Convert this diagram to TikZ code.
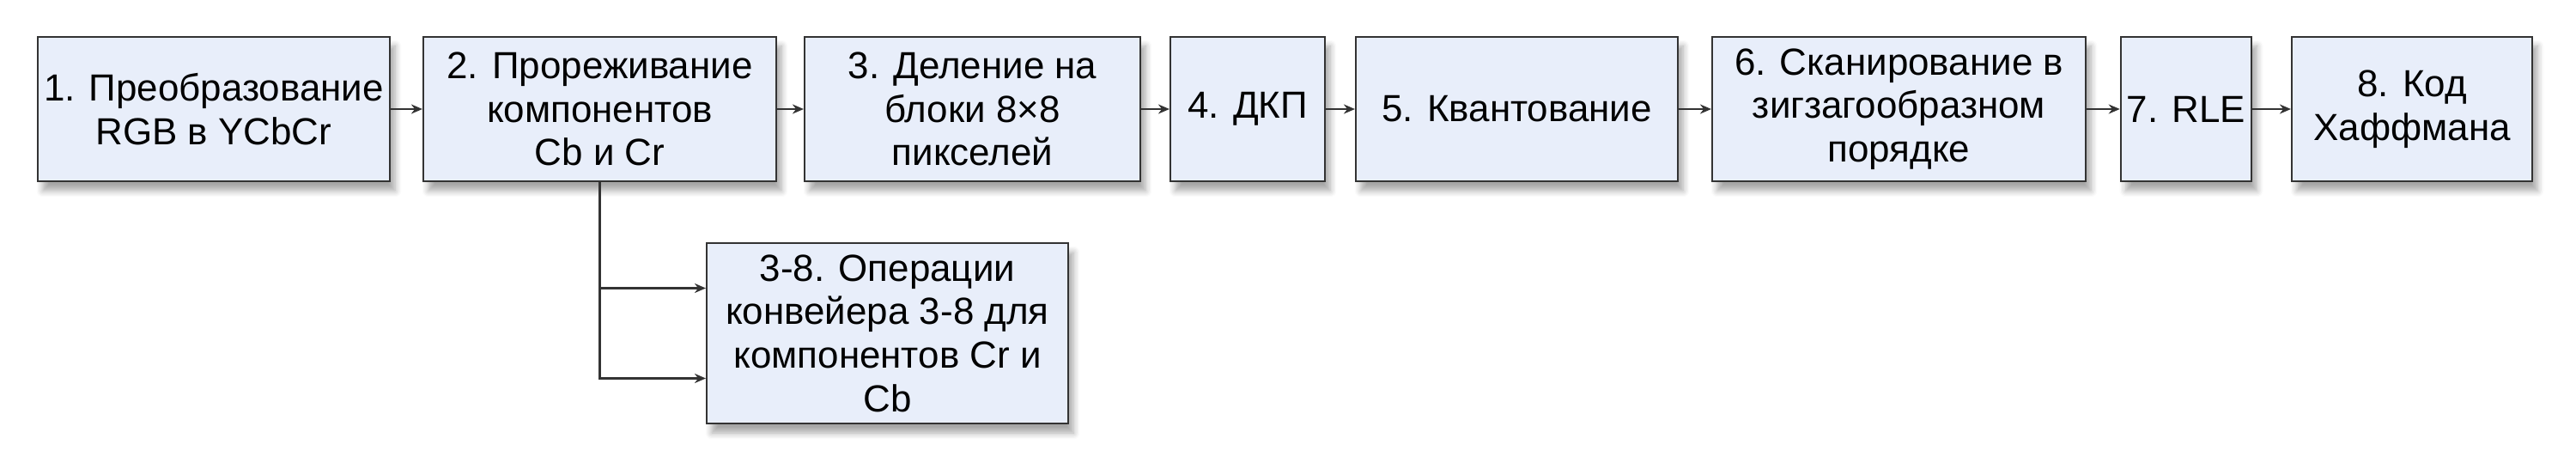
\documentclass[tikz,border=0pt]{standalone}
\usepackage{fontspec}
\setmainfont{Liberation Sans}
\usetikzlibrary{arrows.meta,shadows.blur}
\definecolor{stagefill}{RGB}{232,238,250}
\definecolor{stageline}{RGB}{51,51,51}
\tikzset{
    stage/.style={draw=stageline, fill=stagefill, line width=0.6pt, minimum height=1.68cm,
        align=center, inner sep=2pt, font=\fontsize{12.5}{14.4}\selectfont,
        blur shadow={shadow xshift=0.6mm, shadow yshift=-1.1mm, shadow opacity=35, shadow blur steps=6}},
    flow/.style={-{Stealth[length=1.3mm, width=1.1mm]}, draw=stageline, line width=0.6pt}
}
\begin{document}
\begin{tikzpicture}
        \useasboundingbox (0, 0) rectangle (30, -5.46);

        \node[stage, minimum width=4.10cm] (rgb) at (2.49, -1.27) {1. Преобразование\\RGB в YCbCr};
        \node[stage, minimum width=4.11cm] (sub) at (6.985, -1.27) {2. Прореживание\\компонентов\\Cb и Cr};
        \node[stage, minimum width=3.91cm] (blocks) at (11.325, -1.27) {3. Деление на\\блоки 8×8\\пикселей};
        \node[stage, minimum width=1.80cm] (dct) at (14.53, -1.27) {4. ДКП};
        \node[stage, minimum width=3.75cm] (quant) at (17.665, -1.27) {5. Квантование};
        \node[stage, minimum width=4.35cm] (zigzag) at (22.115, -1.27) {6. Сканирование в\\зигзагообразном\\порядке};
        \node[stage, minimum width=1.48cm] (rle) at (25.46, -1.27) {7. RLE};
        \node[stage, minimum width=2.80cm] (huff) at (28.09, -1.27) {8. Код\\Хаффмана};
        \node[stage, minimum width=4.21cm, minimum height=2.10cm] (chroma) at (10.335, -3.88) {3-8. Операции\\конвейера 3-8 для\\компонентов Cr и\\Cb};

        \draw[flow] (rgb) -- (sub);
        \draw[flow] (sub) -- (blocks);
        \draw[flow] (blocks) -- (dct);
        \draw[flow] (dct) -- (quant);
        \draw[flow] (quant) -- (zigzag);
        \draw[flow] (zigzag) -- (rle);
        \draw[flow] (rle) -- (huff);

        \draw[flow] (sub.south) |- ([yshift=0.525cm]chroma.west);
        \draw[flow] (sub.south) |- ([yshift=-0.525cm]chroma.west);
    \end{tikzpicture}
\end{document}
